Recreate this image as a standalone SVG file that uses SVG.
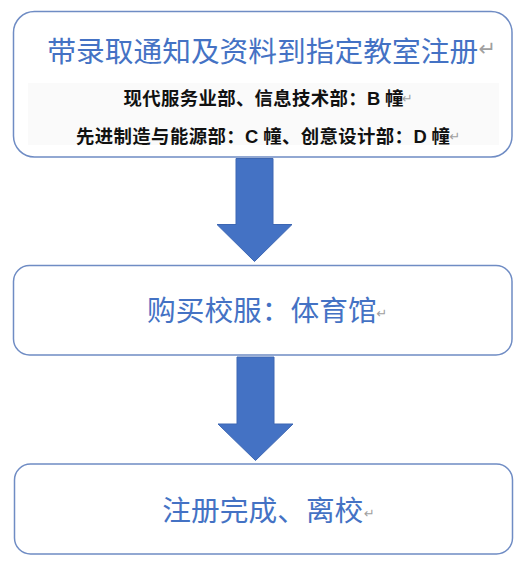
<svg xmlns="http://www.w3.org/2000/svg" width="528" height="567" viewBox="0 0 528 567">
  <style>
    .box { fill: #ffffff; stroke: #6f8cc4; stroke-width: 1.5; }
    .band { fill: #fafafa; }
    .title { font-family: "Noto Sans CJK SC", "Noto Sans", sans-serif; font-size: 28.7px; fill: #4472c4; font-weight: 400; }
    .sub { font-family: "Noto Sans CJK SC", "Noto Sans", sans-serif; font-size: 18.4px; fill: #111111; font-weight: 700; }
    .lat { font-family: "Liberation Sans", Arial, sans-serif; font-weight: 700; }
    .pm { font-family: "DejaVu Sans", sans-serif; fill: #a0a0a0; }
    .arrow { fill: #4472c4; stroke: #3d67b3; stroke-width: 1; }
  </style>
  <rect width="528" height="567" fill="#ffffff"/>

  <g id="connectors">
    <polygon class="arrow" points="236,158.5 273,158.5 273,224.5 292,224.5 254.5,261.5 217,224.5 236,224.5"/>
    <polygon class="arrow" points="237,357 274,357 274,424 293,424 255.5,460.5 218,424 237,424"/>
  </g>

  <g id="node-1">
    <rect class="box" x="13.5" y="11.5" width="498.5" height="145.5" rx="21" ry="21"/>
    <rect class="band" x="28" y="83" width="471" height="62"/>
    <text class="title" x="47.2" y="62" textLength="431" lengthAdjust="spacing">带录取通知及资料到指定教室注册</text>
    <text class="pm" x="478.5" y="56" font-size="21">↵</text>
    <text class="sub" x="123.5" y="105.3" textLength="280" lengthAdjust="spacing">现代服务业部、信息技术部：<tspan class="lat">B</tspan> 幢</text>
    <text class="pm" x="402" y="103" font-size="13">↵</text>
    <text class="sub" x="76" y="142.8" textLength="374" lengthAdjust="spacing">先进制造与能源部：<tspan class="lat">C</tspan> 幢、创意设计部：<tspan class="lat">D</tspan> 幢</text>
    <text class="pm" x="449.5" y="141" font-size="13">↵</text>
  </g>

  <g id="node-2">
    <rect class="box" x="13.5" y="265.5" width="498.5" height="89.5" rx="16" ry="16"/>
    <text class="title" x="147" y="321" textLength="229.6" lengthAdjust="spacing">购买校服：体育馆</text>
    <text class="pm" x="376.5" y="318" font-size="13">↵</text>
  </g>

  <g id="node-3">
    <rect class="box" x="14.5" y="464" width="498" height="90" rx="16" ry="16"/>
    <text class="title" x="162.3" y="520.6" textLength="201" lengthAdjust="spacing">注册完成、离校</text>
    <text class="pm" x="364" y="518" font-size="13">↵</text>
  </g>
</svg>
